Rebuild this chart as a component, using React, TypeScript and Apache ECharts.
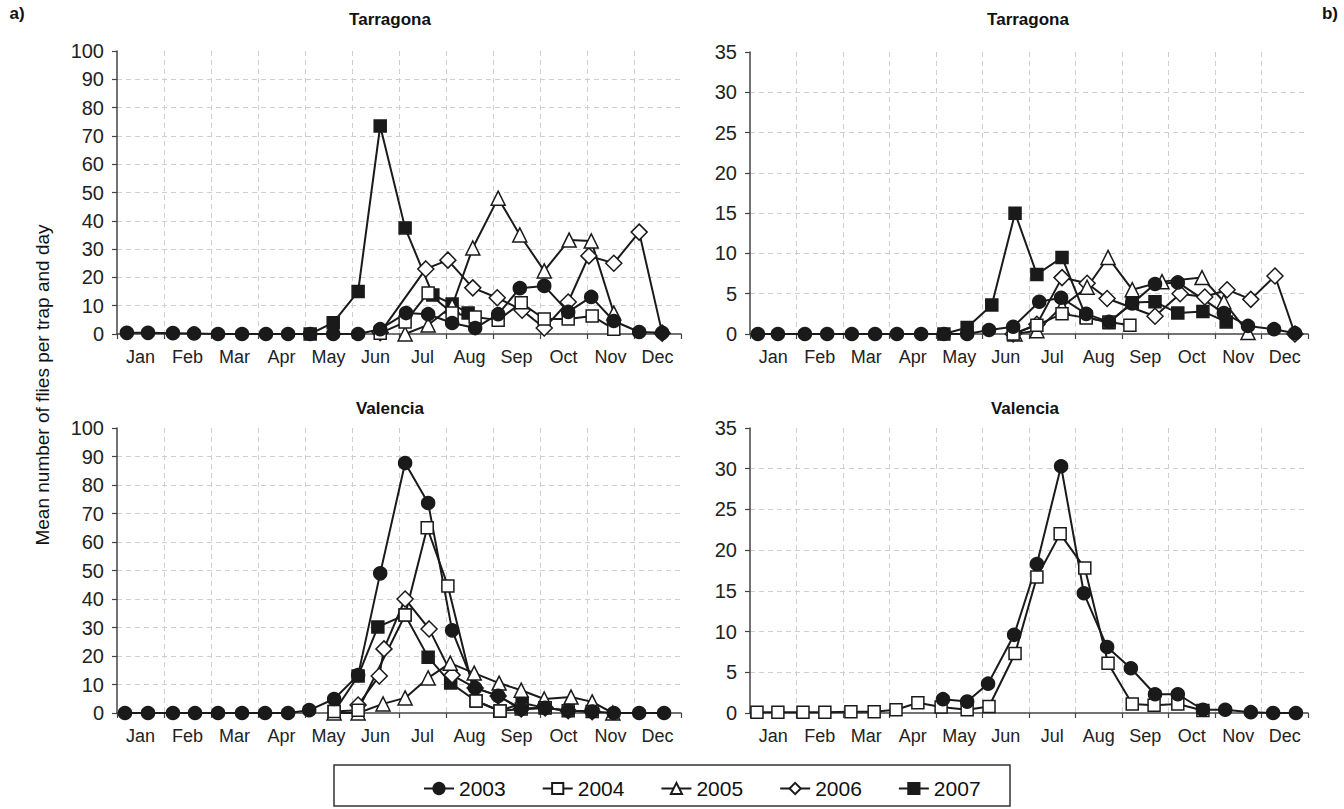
import React, { useEffect, useRef } from "react";
import * as echarts from "echarts";

const months = ["Jan", "Feb", "Mar", "Apr", "May", "Jun", "Jul", "Aug", "Sep", "Oct", "Nov", "Dec"];
const years = ["2003", "2004", "2005", "2006", "2007"];

// x = month position (0 = 1 Jan, 12 = 31 Dec), y = mean flies per trap and day
// a) Tarragona
const tarA2003: [number, number][] = [[0.21,0.4],[0.66,0.4],[1.19,0.3],[1.64,0.2],[2.15,0],[2.66,0],[3.17,0],[3.64,0],[4.11,0],[4.6,0],[5.13,0],[5.6,1.7],[6.15,7.4],[6.62,7],[7.13,3.9],[7.62,2.1],[8.11,7],[8.57,16.2],[9.09,17],[9.6,7.8],[10.09,13.1],[10.57,4.6],[11.11,0.7],[11.6,0.4]];
const tarA2004: [number, number][] = [[5.6,0.3],[6.13,4.2],[6.62,14.5],[7.13,7.4],[7.62,6],[8.11,4.9],[8.6,11],[9.09,5.3],[9.6,5.3],[10.11,6.4],[10.57,1.7]];
const tarA2005: [number, number][] = [[6.13,0],[6.62,3.2],[7.13,9.9],[7.57,30.4],[8.11,48],[8.57,35],[9.09,22.3],[9.62,33.2],[10.09,32.9],[10.57,7.4]];
const tarA2006: [number, number][] = [[5.6,0.5],[6.57,23],[7.04,26.1],[7.57,16.3],[8.09,12.8],[8.62,8.4],[9.09,2.1],[9.6,11.3],[10.04,27.6],[10.57,25],[11.11,36],[11.6,0.3]];
const tarA2007: [number, number][] = [[4.11,0],[4.6,4],[5.13,15],[5.6,73.5],[6.13,37.5],[6.72,13.8],[7.13,10.6],[7.47,7.4]];

// b) Tarragona
const tarB2003: [number, number][] = [[0.17,0],[0.6,0],[1.18,0],[1.66,0],[2.19,0],[2.69,0],[3.16,0],[3.68,0],[4.17,0],[4.67,0],[5.14,0.5],[5.66,0.9],[6.22,4],[6.69,4.5],[7.23,2.5],[7.72,1.5],[8.22,3.8],[8.71,6.2],[9.2,6.4],[10.19,2.6],[10.71,1],[11.27,0.6],[11.72,0.1]];
const tarB2004: [number, number][] = [[5.66,0],[6.17,1.1],[6.71,2.5],[7.23,2],[7.72,1.5],[8.17,1.1]];
const tarB2005: [number, number][] = [[5.7,0],[6.17,0.4],[6.71,3.4],[7.25,5.8],[7.7,9.5],[8.22,5.5],[8.86,6.5],[9.72,7],[10.19,4],[10.71,0.2]];
const tarB2006: [number, number][] = [[5.66,0],[6.17,1.2],[6.71,7],[7.25,6.3],[7.68,4.4],[8.71,2.2],[9.25,5],[9.78,4.6],[10.26,5.5],[10.77,4.3],[11.29,7.2],[11.72,0]];
const tarB2007: [number, number][] = [[4.17,0],[4.67,0.8],[5.2,3.6],[5.7,15],[6.17,7.4],[6.71,9.5],[7.23,2.1],[7.72,1.4],[8.22,3.9],[8.71,4],[9.2,2.6],[9.74,2.8],[10.24,1.5]];

// a) Valencia
const valA2003: [number, number][] = [[0.17,0],[0.66,0],[1.19,0],[1.66,0],[2.15,0],[2.66,0],[3.15,0],[3.64,0],[4.09,1],[4.62,4.9],[5.13,13.3],[5.6,49],[6.13,87.7],[6.62,73.7],[7.13,29],[7.62,8.8],[8.11,6],[8.6,1.4],[9.11,1.8],[9.6,0.8],[10.11,0.5],[10.57,0],[11.11,0],[11.64,0]];
const valA2004: [number, number][] = [[4.62,0.5],[5.13,1],[6.13,34.4],[6.6,65],[7.04,44.6],[7.64,4.2],[8.15,0.7],[8.6,1.4],[9.11,1.8],[9.6,0.8],[10.11,0.5]];
const valA2005: [number, number][] = [[4.62,0],[5.13,0],[5.66,3.2],[6.13,5.3],[6.62,12.3],[7.09,17.5],[7.6,14],[8.13,10.5],[8.6,8],[9.09,4.9],[9.66,5.6],[10.11,3.9],[10.55,0]];
const valA2006: [number, number][] = [[5.13,2.8],[5.58,13],[5.68,22.5],[6.13,40],[6.64,29.5],[7.13,13.3],[7.62,8.8],[8.11,6],[8.6,1.4],[9.11,1.8],[9.6,0.8],[10.11,0.5]];
const valA2007: [number, number][] = [[4.62,0.5],[5.13,13],[5.55,30.2],[6.13,34.4],[6.62,19.6],[7.1,10.5],[7.64,4.2],[8.15,0.7],[8.62,3.5],[9.11,1.8]];

// b) Valencia
const valB2003: [number, number][] = [[4.15,1.7],[4.67,1.4],[5.12,3.6],[5.68,9.6],[6.17,18.3],[6.69,30.3],[7.18,14.7],[7.68,8.1],[8.19,5.5],[8.71,2.3],[9.2,2.3],[9.74,0.4],[10.22,0.4],[10.77,0.1],[11.25,0],[11.74,0]];
const valB2004: [number, number][] = [[0.15,0.1],[0.6,0.1],[1.14,0.1],[1.61,0.1],[2.17,0.15],[2.67,0.15],[3.14,0.4],[3.61,1.25],[4.11,0.75],[4.67,0.4],[5.14,0.8],[5.7,7.3],[6.17,16.7],[6.67,22],[7.2,17.8],[7.7,6.1],[8.22,1.1],[8.69,0.95],[9.2,1.1],[9.74,0.3]];

const FONT = "Liberation Sans, Arial, Helvetica, sans-serif";
const INK = "#1a1a1a";

const yearStyle: Record<string, { symbol: string; size: number; fill: string }> = {
  "2003": { symbol: "circle", size: 13, fill: INK },
  "2004": { symbol: "rect", size: 12, fill: "#ffffff" },
  "2005": { symbol: "triangle", size: 14, fill: "#ffffff" },
  "2006": { symbol: "diamond", size: 16, fill: "#ffffff" },
  "2007": { symbol: "rect", size: 12, fill: INK },
};

const panels = [
  { grid: { left: 117, top: 51, width: 564, height: 283 }, yMax: 100, yInt: 10,
    data: { "2003": tarA2003, "2004": tarA2004, "2005": tarA2005, "2006": tarA2006, "2007": tarA2007 } as Record<string, [number, number][]> },
  { grid: { left: 750, top: 52, width: 558, height: 282 }, yMax: 35, yInt: 5,
    data: { "2003": tarB2003, "2004": tarB2004, "2005": tarB2005, "2006": tarB2006, "2007": tarB2007 } as Record<string, [number, number][]> },
  { grid: { left: 117, top: 428, width: 564, height: 285 }, yMax: 100, yInt: 10,
    data: { "2003": valA2003, "2004": valA2004, "2005": valA2005, "2006": valA2006, "2007": valA2007 } as Record<string, [number, number][]> },
  { grid: { left: 750, top: 428, width: 558, height: 285 }, yMax: 35, yInt: 5,
    data: { "2003": valB2003, "2004": valB2004 } as Record<string, [number, number][]> },
];

const gridDash = { color: "#cfcfcf", type: [5, 4] as number[], width: 1 };
const axisInk = { color: "#444", width: 1.5 };

export default function App() {
  const ref = useRef<HTMLDivElement>(null);
  useEffect(() => {
    if (!ref.current) return;
    const chart = echarts.init(ref.current, undefined, { renderer: "svg" });
    const grids: any[] = [];
    const xAxes: any[] = [];
    const yAxes: any[] = [];
    const series: any[] = [];
    panels.forEach((p, i) => {
      grids.push({ ...p.grid, containLabel: false });
      xAxes.push({
        type: "value", gridIndex: i, min: 0, max: 12, interval: 1,
        axisLabel: { show: false },
        axisLine: { show: true, lineStyle: axisInk },
        axisTick: { show: true, length: 5, lineStyle: { color: "#444", width: 1.2 } },
        splitLine: { show: true, showMinLine: false, showMaxLine: false, lineStyle: gridDash },
      });
      xAxes.push({
        type: "category", gridIndex: i, data: months, boundaryGap: true, position: "bottom",
        axisLine: { show: false }, axisTick: { show: false }, splitLine: { show: false },
        axisLabel: { interval: 0, color: "#222", fontSize: 18, fontFamily: FONT, margin: 14 },
      });
      yAxes.push({
        type: "value", gridIndex: i, min: 0, max: p.yMax, interval: p.yInt,
        axisLine: { show: true, lineStyle: axisInk },
        axisTick: { show: true, length: 5, lineStyle: { color: "#444", width: 1.2 } },
        axisLabel: { color: "#222", fontSize: 20, fontFamily: FONT, margin: 13 },
        splitLine: { show: true, showMinLine: false, showMaxLine: false, lineStyle: gridDash },
      });
      ["2007", "2006", "2005", "2004", "2003"].forEach((y) => {
        const d = p.data[y];
        if (!d) return;
        const st = yearStyle[y];
        series.push({
          type: "line", name: y, xAxisIndex: 2 * i, yAxisIndex: i, data: d,
          symbol: st.symbol, symbolSize: st.size, showSymbol: true, clip: false,
          lineStyle: { color: INK, width: 2 },
          itemStyle: { color: st.fill, borderColor: INK, borderWidth: 1.5 },
          emphasis: { disabled: true },
        });
      });
    });
    const txt = (text: string, x: number, y: number, size: number, bold: boolean, extra: any = {}) => ({
      type: "text", x, y, ...extra,
      style: { text, fontSize: size, fontWeight: bold ? "bold" : "normal", fontFamily: FONT, fill: "#111", textAlign: "center", textVerticalAlign: "middle" },
    });
    chart.setOption({
      animation: false,
      backgroundColor: "#ffffff",
      grid: grids,
      xAxis: xAxes,
      yAxis: yAxes,
      series,
      legend: {
        data: years, top: 773, left: 418, itemWidth: 30, itemHeight: 14, itemGap: 36,
        textStyle: { fontSize: 21, fontFamily: FONT, color: "#111" },
        selectedMode: false,
      },
      graphic: [
        txt("a)", 17, 13, 17, true),
        txt("b)", 1330, 13, 17, true),
        txt("Tarragona", 390, 19, 17, true),
        txt("Tarragona", 1028, 19, 17, true),
        txt("Valencia", 390, 408, 17, true),
        txt("Valencia", 1025, 408, 17, true),
        txt("Mean number of flies per trap and day", 42, 385, 19, false, { rotation: Math.PI / 2 }),
        { type: "rect", shape: { x: 334, y: 765, width: 676, height: 41 }, style: { fill: "none", stroke: "#333", lineWidth: 1.5 } },
      ],
    });
    return () => chart.dispose();
  }, []);
  return <div ref={ref} style={{ position: "fixed", left: 0, top: 0, width: 1344, height: 809 }} />;
}
